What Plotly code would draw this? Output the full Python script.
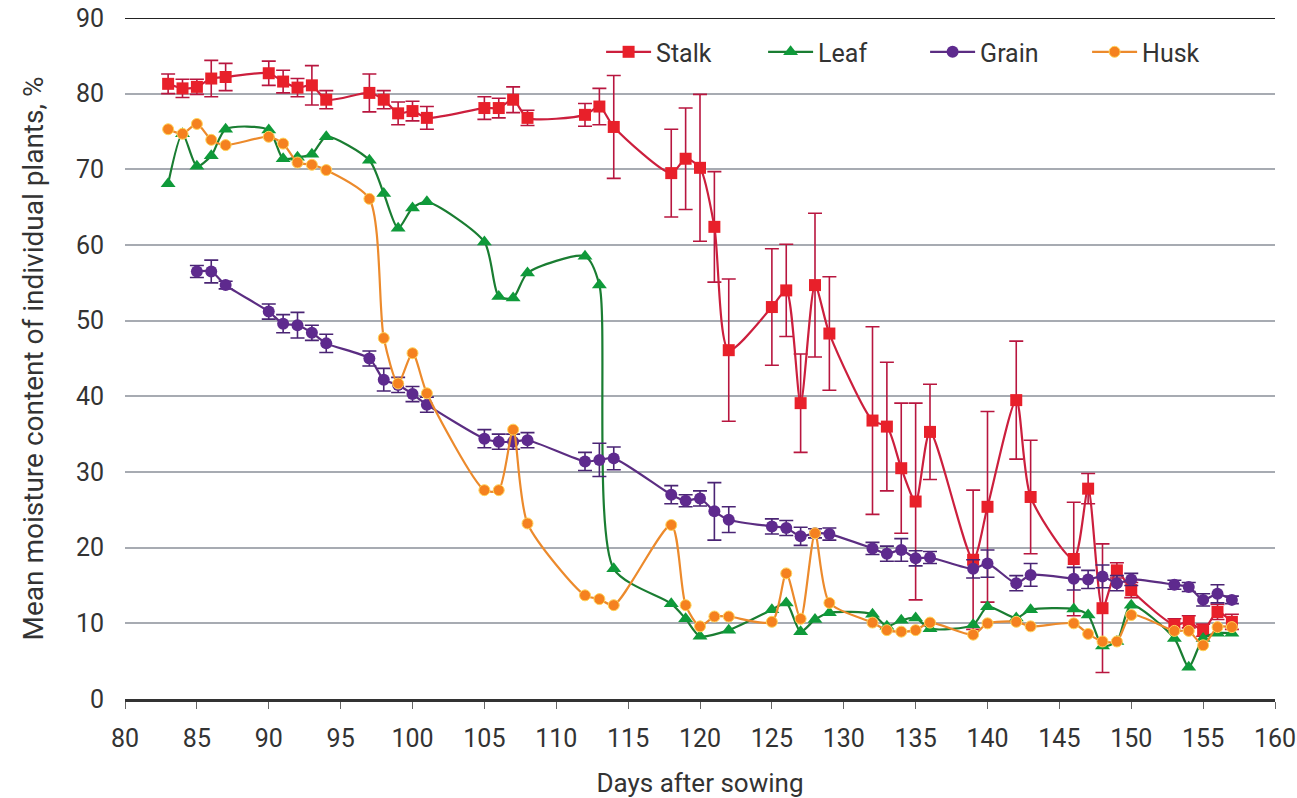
import plotly.graph_objects as go

# ---------------- data ----------------
stalk_x = [83, 84, 85, 86, 87, 90, 91, 92, 93, 94, 97, 98, 99, 100, 101, 105, 106, 107, 108, 112, 113, 114,
           118, 119, 120, 121, 122, 125, 126, 127, 128, 129, 132, 133, 134, 135, 136, 139, 140, 142, 143,
           146, 147, 148, 149, 150, 153, 154, 155, 156, 157]
stalk_y = [81.3, 80.7, 80.9, 82.0, 82.2, 82.7, 81.6, 80.8, 81.1, 79.2, 80.1, 79.2, 77.4, 77.7, 76.8, 78.1, 78.1,
           79.2, 76.8, 77.2, 78.3, 75.6, 69.5, 71.4, 70.2, 62.4, 46.1, 51.8, 54.0, 39.1, 54.7, 48.3, 36.8, 36.0,
           30.5, 26.1, 35.3, 18.4, 25.4, 39.5, 26.7, 18.5, 27.8, 12.0, 17.0, 14.4, 9.8, 10.2, 9.1, 11.5, 10.2]
stalk_err = [1.3, 1.2, 1.0, 2.4, 1.8, 1.6, 1.5, 1.2, 2.6, 1.2, 2.5, 1.2, 1.5, 1.3, 1.5, 1.5, 1.3, 1.7, 1.0, 1.5,
             2.4, 6.8, 5.8, 6.7, 9.7, 7.3, 9.4, 7.7, 6.1, 6.5, 9.5, 7.5, 12.4, 8.5, 8.6, 13.0, 6.3, 9.2, 12.6,
             7.8, 7.5, 7.5, 2.0, 8.5, 1.0, 1.0, 0.8, 0.8, 0.8, 1.0, 1.0]

leaf_x = [83, 84, 85, 86, 87, 90, 91, 92, 93, 94, 97, 98, 99, 100, 101, 105, 106, 107, 108, 112, 113, 114,
          118, 119, 120, 122, 125, 126, 127, 128, 129, 132, 133, 134, 135, 136, 139, 140, 142, 143,
          146, 147, 148, 149, 150, 153, 154, 155, 156, 157]
leaf_y = [68.1, 74.7, 70.4, 71.8, 75.3, 75.2, 71.4, 71.6, 72.0, 74.3, 71.2, 66.8, 62.2, 64.9, 65.7, 60.4, 53.2,
          53.0, 56.3, 58.5, 54.7, 17.2, 12.6, 10.6, 8.3, 9.1, 11.8, 12.7, 8.9, 10.5, 11.4, 11.2, 9.6, 10.4,
          10.7, 9.3, 9.8, 12.2, 10.7, 11.8, 11.9, 11.1, 7.0, 7.6, 12.4, 8.0, 4.2, 8.0, 8.7, 8.7]

grain_x = [85, 86, 87, 90, 91, 92, 93, 94, 97, 98, 99, 100, 101, 105, 106, 107, 108, 112, 113, 114,
           118, 119, 120, 121, 122, 125, 126, 127, 128, 129, 132, 133, 134, 135, 136, 139, 140, 142, 143,
           146, 147, 148, 149, 150, 153, 154, 155, 156, 157]
grain_y = [56.5, 56.5, 54.7, 51.2, 49.6, 49.4, 48.4, 47.0, 45.0, 42.2, 41.5, 40.3, 38.9, 34.4, 34.0, 34.0, 34.2,
           31.4, 31.6, 31.8, 27.0, 26.2, 26.5, 24.8, 23.7, 22.8, 22.6, 21.5, 21.9, 21.8, 19.9, 19.2, 19.7,
           18.6, 18.7, 17.2, 17.9, 15.3, 16.4, 15.9, 15.8, 16.2, 15.3, 15.8, 15.1, 14.8, 13.1, 13.9, 13.1]
grain_err = [0.8, 1.5, 0.5, 1.0, 1.2, 1.7, 1.0, 1.2, 1.0, 1.5, 1.0, 1.0, 1.0, 1.2, 1.0, 1.0, 1.0, 1.2, 2.2, 1.5,
             1.2, 0.8, 1.0, 3.8, 1.7, 1.0, 1.0, 1.2, 0.6, 0.8, 0.8, 1.0, 1.5, 1.0, 0.8, 1.2, 1.8, 1.0, 1.5,
             1.5, 1.2, 1.5, 1.0, 0.8, 0.6, 0.6, 0.8, 1.2, 0.5]

husk_x = [83, 84, 85, 86, 87, 90, 91, 92, 93, 94, 97, 98, 99, 100, 101, 105, 106, 107, 108, 112, 113, 114,
          118, 119, 120, 121, 122, 125, 126, 127, 128, 129, 132, 133, 134, 135, 136, 139, 140, 142, 143,
          146, 147, 148, 149, 150, 153, 154, 155, 156, 157]
husk_y = [75.3, 74.7, 76.0, 73.9, 73.2, 74.3, 73.4, 70.9, 70.6, 69.9, 66.1, 47.7, 41.7, 45.7, 40.4, 27.6, 27.6,
          35.6, 23.2, 13.7, 13.2, 12.4, 23.0, 12.4, 9.6, 10.9, 10.9, 10.2, 16.6, 10.6, 21.9, 12.7, 10.1, 9.1,
          8.9, 9.1, 10.1, 8.5, 10.0, 10.2, 9.6, 10.0, 8.6, 7.6, 7.6, 11.1, 9.0, 9.0, 7.1, 9.5, 9.5]

x_ticks = list(range(80, 161, 5))
y_ticks = list(range(0, 91, 10))

# ---------------- figure ----------------
FONT = "Roboto, 'Liberation Sans Narrow', sans-serif"
fig = go.Figure()

SMOOTH = 0.7

fig.add_trace(go.Scatter(
    x=stalk_x, y=stalk_y, name="Stalk", mode="lines+markers",
    line=dict(color="#cc1f3d", width=2.2, shape="spline", smoothing=SMOOTH),
    marker=dict(symbol="square", size=12, color="#e8202a"),
    error_y=dict(type="data", array=stalk_err, visible=True, color="#b8163f", thickness=1.6, width=7),
))
fig.add_trace(go.Scatter(
    x=leaf_x, y=leaf_y, name="Leaf", mode="lines+markers",
    line=dict(color="#1a7d32", width=2.2, shape="spline", smoothing=SMOOTH),
    marker=dict(symbol="triangle-up", size=13, color="#0f9a3a"),
))
fig.add_trace(go.Scatter(
    x=grain_x, y=grain_y, name="Grain", mode="lines+markers",
    line=dict(color="#5b2d82", width=2.2, shape="spline", smoothing=SMOOTH),
    marker=dict(symbol="circle", size=12, color="#5e2a8e"),
    error_y=dict(type="data", array=grain_err, visible=True, color="#4a2474", thickness=1.6, width=7),
))
fig.add_trace(go.Scatter(
    x=husk_x, y=husk_y, name="Husk", mode="lines+markers",
    line=dict(color="#ec8a2c", width=2.2, shape="spline", smoothing=SMOOTH),
    marker=dict(symbol="circle", size=11, color="#f5811f", line=dict(color="#ffd45a", width=1)),
))

fig.add_shape(type="line", xref="paper", yref="y", x0=0, x1=1, y0=90, y1=90,
              line=dict(color="#222222", width=2))

fig.update_layout(
    width=1297, height=798,
    margin=dict(l=125, r=22, t=18, b=99, autoexpand=False),
    paper_bgcolor="white", plot_bgcolor="white",
    font=dict(family=FONT, color="#333333", size=22),
    showlegend=True,
    legend=dict(orientation="h", x=0.414, y=0.95, xanchor="left", yanchor="middle",
                font=dict(size=25, color="#333333"), bgcolor="rgba(0,0,0,0)",
                entrywidth=102, entrywidthmode="pixels", itemwidth=45),
)
fig.update_xaxes(
    range=[80, 160], tickvals=x_ticks, ticktext=[str(v) for v in x_ticks],
    showgrid=False, zeroline=False,
    showline=True, linecolor="#333333", linewidth=3,
    ticks="outside", ticklen=7, tickcolor="#666666", tickwidth=1,
    tickfont=dict(size=25, color="#333333"), ticklabelstandoff=8,
    title=dict(text="Days after sowing", font=dict(size=26, color="#333333"), standoff=22),
)
fig.update_yaxes(
    range=[0, 90], tickvals=y_ticks,
    showgrid=True, gridcolor="#a7abb2", gridwidth=1.5,
    zeroline=False, showline=False, ticks="",
    tickfont=dict(size=25, color="#333333"), ticklabelstandoff=20,
    title=dict(text="Mean moisture content of individual plants, %",
               font=dict(size=28, color="#333333"), standoff=24),
)

fig.write_html("out.html")
